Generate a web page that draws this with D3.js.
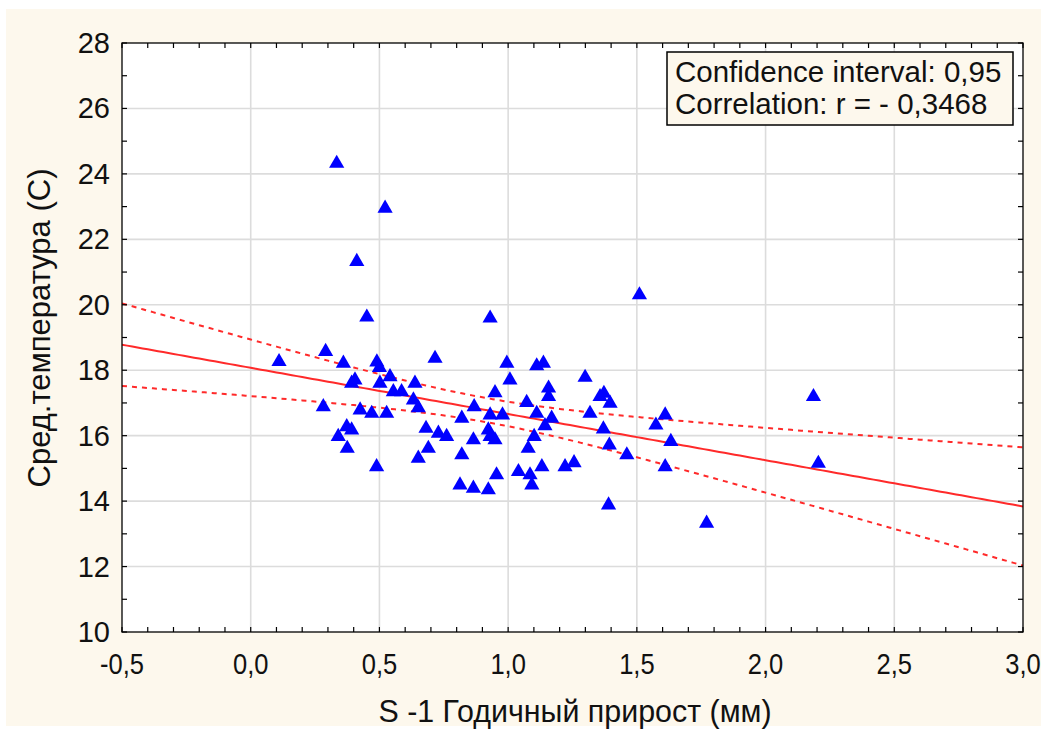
<!DOCTYPE html>
<html><head><meta charset="utf-8">
<script src="https://cdn.jsdelivr.net/npm/d3@7"></script>
<style>body{margin:0;background:#fff;} text{font-family:"Liberation Sans",Arial,sans-serif;}</style>
</head><body><svg id="c" width="1046" height="731"></svg>
<script>
// ---- data ----
const growth = [0.110,0.291,0.282,0.334,0.522,0.412,0.451,0.360,0.490,0.500,0.541,0.405,0.392,0.502,0.554,0.586,0.425,0.470,0.528,0.373,0.392,0.340,0.375,0.489,0.716,0.638,0.632,0.651,0.820,0.681,0.729,0.761,0.690,0.651,0.820,0.813,0.865,0.923,0.930,0.995,1.007,0.949,0.868,0.930,0.978,0.923,0.930,0.949,0.865,0.955,1.040,1.085,1.092,1.111,1.137,1.299,1.157,1.157,1.357,1.372,1.396,1.072,1.111,1.169,1.318,1.143,1.101,1.370,1.078,1.393,1.461,1.131,1.221,1.256,1.390,1.610,1.574,1.632,1.610,1.510,2.186,2.205,1.771];
const temperature = [18.26,18.57,16.88,24.32,22.95,21.32,19.62,18.21,18.25,18.08,17.80,17.70,17.60,17.60,17.34,17.34,16.78,16.68,16.68,16.27,16.17,15.97,15.61,15.05,18.36,17.60,17.09,16.85,16.53,16.22,16.07,15.97,15.61,15.31,15.41,14.49,14.39,14.34,19.59,18.21,17.70,17.31,16.88,16.63,16.63,16.17,15.97,15.87,15.87,14.80,14.90,14.80,14.49,18.13,18.21,17.78,17.45,17.19,17.19,17.29,16.99,17.01,16.68,16.53,16.68,16.30,15.97,16.20,15.61,15.71,15.41,15.05,15.05,15.17,13.88,16.63,16.32,15.82,15.05,20.30,17.19,15.15,13.32];
const xTicks = [-0.5,0.0,0.5,1.0,1.5,2.0,2.5,3.0];
const yTicks = [10,12,14,16,18,20,22,24,26,28];
const xTitle = "S -1 Годичный прирост (мм)";
const yTitle = "Сред.температура (С)";
const legendLines = ["Confidence interval: 0,95", "Correlation: r = - 0,3468"];
const tCrit = 1.99; // t(0.975, n-2)

// ---- layout ----
const svg = d3.select("#c");
const L = 122, R = 1023, T = 43, B = 632;
const x = d3.scaleLinear().domain([-0.5, 3.0]).range([L, R]);
const y = d3.scaleLinear().domain([10, 28]).range([B, T]);

svg.append("rect").attr("x",0).attr("y",0).attr("width",1046).attr("height",731).attr("fill","#ffffff");
svg.append("rect").attr("x",6).attr("y",9).attr("width",1035).attr("height",717).attr("fill","#fdf8ed");
svg.append("rect").attr("x",L).attr("y",T).attr("width",R-L).attr("height",B-T).attr("fill","#ffffff");

// grid
const grid = svg.append("g").attr("stroke","#dcdcdc").attr("stroke-width",1.6);
xTicks.slice(1,-1).forEach(v => grid.append("line").attr("x1",x(v)).attr("x2",x(v)).attr("y1",T).attr("y2",B));
yTicks.slice(1,-1).forEach(v => grid.append("line").attr("y1",y(v)).attr("y2",y(v)).attr("x1",L).attr("x2",R));

// regression
const n = growth.length;
const mx = d3.mean(growth), my = d3.mean(temperature);
let sxx = 0, sxy = 0;
for (let i=0;i<n;i++){ sxx += (growth[i]-mx)**2; sxy += (growth[i]-mx)*(temperature[i]-my); }
const slope = sxy/sxx, icpt = my - slope*mx;
let sse = 0;
for (let i=0;i<n;i++){ sse += (temperature[i]-(icpt+slope*growth[i]))**2; }
const s = Math.sqrt(sse/(n-2));
const xs = d3.range(-0.5, 3.0001, 0.02);
const fit = v => icpt + slope*v;
const hw = v => tCrit*s*Math.sqrt(1/n + (v-mx)**2/sxx);

svg.append("clipPath").attr("id","pc").append("rect").attr("x",L).attr("y",T).attr("width",R-L).attr("height",B-T);
const lines = svg.append("g").attr("clip-path","url(#pc)");
const line = d3.line().x(d=>x(d[0])).y(d=>y(d[1]));
lines.append("path").attr("d", line(xs.map(v=>[v,fit(v)]))).attr("fill","none").attr("stroke","#ff2a2a").attr("stroke-width",2);
[1,-1].forEach(sg => lines.append("path").attr("d", line(xs.map(v=>[v,fit(v)+sg*hw(v)])))
  .attr("fill","none").attr("stroke","#ff2a2a").attr("stroke-width",2).attr("stroke-dasharray","5,5"));

// points
const tri = d3.symbol().type(d3.symbolTriangle).size(100);
svg.append("g").selectAll("path").data(growth.map((g,i)=>[g,temperature[i]])).join("path")
  .attr("d", tri).attr("transform", d=>`translate(${x(d[0])},${y(d[1])})`).attr("fill","#0000ff");

// frame + ticks
svg.append("rect").attr("x",L).attr("y",T).attr("width",R-L).attr("height",B-T).attr("fill","none").attr("stroke","#000").attr("stroke-width",1.3);
const tk = svg.append("g").attr("stroke","#000").attr("stroke-width",1.2);
d3.range(-0.5, 3.0001, 0.1).forEach(v => {
  tk.append("line").attr("x1",x(v)).attr("x2",x(v)).attr("y1",B).attr("y2",B-5);
  tk.append("line").attr("x1",x(v)).attr("x2",x(v)).attr("y1",T).attr("y2",T+5);
});
d3.range(10, 28.001, 1).forEach(v => {
  tk.append("line").attr("y1",y(v)).attr("y2",y(v)).attr("x1",L).attr("x2",L+5);
  tk.append("line").attr("y1",y(v)).attr("y2",y(v)).attr("x1",R).attr("x2",R-5);
});

// tick labels
const fmt = v => d3.format(".1f")(v).replace(".", ",").replace("\u2212", "-");
svg.append("g").selectAll("text").data(xTicks).join("text")
  .attr("transform", d=>`translate(${x(d)},${B+42}) scale(0.88,1)`).attr("text-anchor","middle")
  .attr("font-size",29).attr("fill","#111").text(fmt);
svg.append("g").selectAll("text").data(yTicks).join("text")
  .attr("x", L-12).attr("y", d=>y(d)+10).attr("text-anchor","end")
  .attr("font-size",29).attr("fill","#111").text(d=>d);

// titles
svg.append("text").attr("transform",`translate(575,722) scale(0.95,1)`).attr("text-anchor","middle")
  .attr("font-size",32).attr("fill","#111").text(xTitle);
svg.append("text").attr("transform",`translate(50,328) rotate(-90)`).attr("text-anchor","middle")
  .attr("font-size",31).attr("fill","#111").text(yTitle);

// legend
svg.append("rect").attr("x",667).attr("y",52).attr("width",346).attr("height",73).attr("fill","#fdf8ed").attr("stroke","#000").attr("stroke-width",1.5);
svg.append("g").selectAll("text").data(legendLines).join("text")
  .attr("x",675).attr("y",(d,i)=>82+i*32).attr("font-size",29.5).attr("fill","#111").text(d=>d);
</script></body></html>
